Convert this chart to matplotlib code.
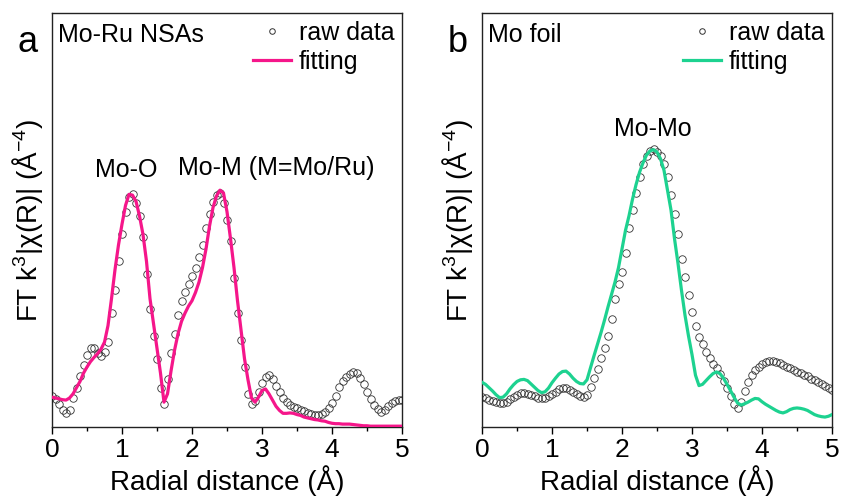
import numpy as np
import matplotlib
matplotlib.use("Agg")
import matplotlib.pyplot as plt
from matplotlib.lines import Line2D

plt.rcParams['font.family'] = ['Liberation Sans', 'DejaVu Sans']
plt.rcParams['mathtext.fontset'] = 'custom'
plt.rcParams['mathtext.rm'] = 'Liberation Sans'
plt.rcParams['mathtext.it'] = 'Liberation Sans:italic'

# radial distance grid (A), 0.05 step
r = np.linspace(0, 5, 101)

# panel a: Mo-Ru NSAs
ru_raw = [
    0.075, 0.068, 0.055, 0.042, 0.035, 0.042, 0.07, 0.095, 0.122, 0.15,
    0.175, 0.19, 0.19, 0.178, 0.172, 0.18, 0.205, 0.275, 0.33, 0.40,
    0.465, 0.52, 0.555, 0.562, 0.54, 0.51, 0.46, 0.37, 0.285, 0.22,
    0.165, 0.095, 0.055, 0.115, 0.178, 0.225, 0.27, 0.305, 0.325, 0.345,
    0.365, 0.385, 0.41, 0.44, 0.48, 0.515, 0.543, 0.56, 0.565, 0.54,
    0.50, 0.45, 0.36, 0.275, 0.21, 0.145, 0.08, 0.055, 0.062, 0.085,
    0.106, 0.12, 0.126, 0.117, 0.10, 0.085, 0.07, 0.06, 0.052, 0.048,
    0.045, 0.042, 0.038, 0.035, 0.031, 0.029, 0.029, 0.031, 0.036, 0.045,
    0.058, 0.076, 0.096, 0.11, 0.12, 0.128, 0.133, 0.13, 0.118, 0.103,
    0.085, 0.068, 0.053, 0.043, 0.037, 0.04, 0.05, 0.057, 0.063, 0.066,
    0.065]
ru_fit = [
    0.072, 0.07, 0.068, 0.066, 0.065, 0.07, 0.08, 0.095, 0.11, 0.13,
    0.145, 0.158, 0.168, 0.177, 0.188, 0.205, 0.245, 0.31, 0.38, 0.44,
    0.49, 0.535, 0.562, 0.56, 0.545, 0.51, 0.465, 0.40, 0.31, 0.25,
    0.19, 0.13, 0.06, 0.08, 0.135, 0.185, 0.225, 0.255, 0.275, 0.292,
    0.305, 0.325, 0.35, 0.385, 0.43, 0.485, 0.53, 0.558, 0.572, 0.565,
    0.52, 0.455, 0.385, 0.305, 0.235, 0.165, 0.114, 0.07, 0.06, 0.072,
    0.088, 0.092, 0.08, 0.065, 0.05, 0.04, 0.033, 0.033, 0.034, 0.033,
    0.03, 0.028, 0.024, 0.022, 0.02, 0.018, 0.017, 0.015, 0.014, 0.011,
    0.009, 0.008, 0.008, 0.007, 0.007, 0.007, 0.006, 0.005, 0.004, 0.003,
    0.003, 0.002, 0.002, 0.002, 0.002, 0.002, 0.002, 0.002, 0.002, 0.002,
    0.002]

# panel b: Mo foil
foil_raw = [
    0.073, 0.07, 0.066, 0.063, 0.06, 0.058, 0.058, 0.061, 0.067, 0.073,
    0.078, 0.081, 0.082, 0.08, 0.077, 0.074, 0.071, 0.07, 0.071, 0.074,
    0.079, 0.085, 0.091, 0.095, 0.094, 0.09, 0.085, 0.08, 0.075, 0.072,
    0.078, 0.097, 0.118, 0.14, 0.167, 0.19, 0.22, 0.26, 0.31, 0.345,
    0.375, 0.42, 0.48, 0.525, 0.565, 0.605, 0.635, 0.655, 0.667, 0.671,
    0.664, 0.655, 0.636, 0.605, 0.56, 0.515, 0.465, 0.405, 0.362, 0.32,
    0.278, 0.245, 0.218, 0.2, 0.182, 0.166, 0.152, 0.142, 0.127, 0.11,
    0.094, 0.076, 0.055, 0.047, 0.06, 0.086, 0.109, 0.125, 0.138, 0.146,
    0.153, 0.157, 0.16, 0.16, 0.157, 0.154, 0.15, 0.146, 0.142, 0.138,
    0.134, 0.13, 0.126, 0.122, 0.117, 0.113, 0.108, 0.104, 0.099, 0.095,
    0.09]
foil_fit = [
    0.108, 0.103, 0.095, 0.087, 0.078, 0.071, 0.072, 0.08, 0.092, 0.102,
    0.11, 0.114, 0.115, 0.112, 0.104, 0.096, 0.088, 0.083, 0.085, 0.094,
    0.107, 0.118, 0.128, 0.134, 0.135, 0.128, 0.118, 0.11, 0.105, 0.104,
    0.114, 0.143, 0.172, 0.2, 0.228, 0.258, 0.29, 0.32, 0.35, 0.385,
    0.43, 0.475, 0.51, 0.55, 0.585, 0.615, 0.638, 0.657, 0.667, 0.67,
    0.664, 0.648, 0.62, 0.572, 0.524, 0.455, 0.395, 0.33, 0.27, 0.22,
    0.175, 0.125, 0.1, 0.103, 0.112, 0.121, 0.129, 0.133, 0.129, 0.118,
    0.103, 0.088, 0.072, 0.058, 0.053, 0.056, 0.06, 0.065, 0.069, 0.068,
    0.061, 0.055, 0.05, 0.045, 0.04, 0.036, 0.034, 0.037, 0.042, 0.045,
    0.046, 0.045, 0.043, 0.04, 0.035, 0.03, 0.027, 0.025, 0.024, 0.026,
    0.03]

pink = '#F5168A'
green = '#1DD290'

fig = plt.figure(figsize=(8.43, 4.97), dpi=100)
ax_a = fig.add_axes([52/843, 70/497, 350/843, 414/497])
ax_b = fig.add_axes([482/843, 70/497, 350/843, 414/497])

panels = [
    (ax_a, ru_raw, ru_fit, pink, 'Mo-Ru NSAs', 'a', 28),
    (ax_b, foil_raw, foil_fit, green, 'Mo foil', 'b', 458),
]

for ax, raw, fit, col, name, letter, lx in panels:
    ax.plot(r, raw, 'o', mfc='none', mec='#333333', mew=0.6, ms=5.4, zorder=2)
    ax.plot(r, fit, '-', color=col, lw=2.3, zorder=3)
    ax.set_xlim(0, 5)
    ax.set_ylim(0, 1)
    ax.set_xticks([0, 1, 2, 3, 4, 5])
    ax.set_xticks([0.5, 1.5, 2.5, 3.5, 4.5], minor=True)
    ax.set_yticks([])
    ax.tick_params(axis='x', which='major', length=5, width=1, labelsize=19, pad=3)
    ax.tick_params(axis='x', which='minor', length=3, width=1)
    for s in ax.spines.values():
        s.set_linewidth(1.0)
        s.set_color('#222222')
    ax.set_xlabel('Radial distance (Å)', fontsize=20, labelpad=2)
    ax.set_ylabel('FT k$^3$|χ(R)| (Å$^{-4}$)', fontsize=20, labelpad=5)
    ax.text(0.086, 0.93, name, fontsize=18, va='baseline', ha='left')
    fig.text(lx/843, 1 - 52/497, letter, fontsize=26, ha='center', va='baseline')

    handles = [
        Line2D([], [], ls='none', marker='o', mfc='none', mec='#333333', mew=0.7, ms=4),
        Line2D([], [], color=col, lw=2.3),
    ]
    ax.legend(handles, ['raw data', 'fitting'], loc='upper right', frameon=False,
              fontsize=18, handlelength=1.55, handletextpad=0.3, labelspacing=0.2,
              borderaxespad=0.1, borderpad=0.2)

ax_a.text(1.057, 0.604, 'Mo-O', fontsize=18, ha='center', va='baseline')
ax_a.text(3.2, 0.609, 'Mo-M (M=Mo/Ru)', fontsize=18, ha='center', va='baseline')
ax_b.text(2.443, 0.703, 'Mo-Mo', fontsize=18, ha='center', va='baseline')

fig.savefig('out.png', dpi=100)
